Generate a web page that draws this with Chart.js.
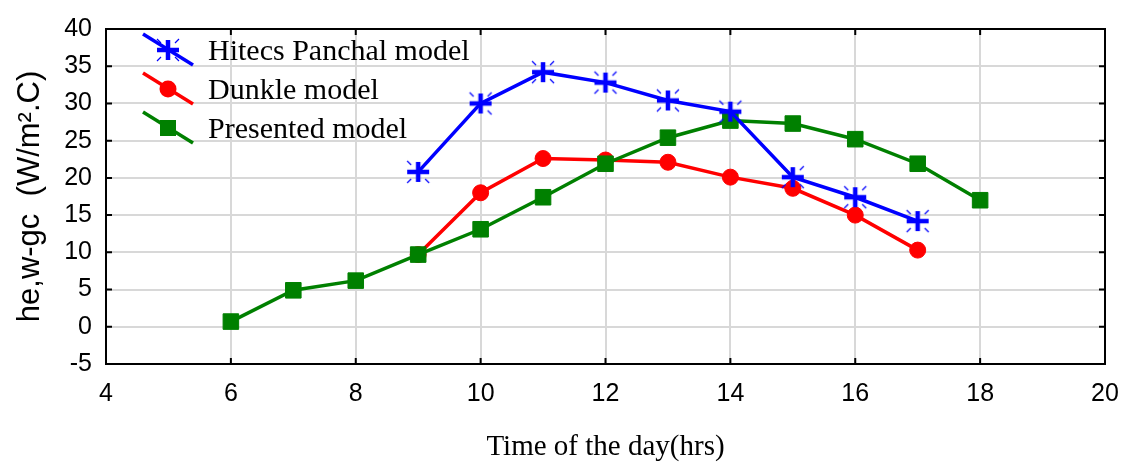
<!DOCTYPE html>
<html>
<head>
<meta charset="utf-8">
<script src="https://cdn.jsdelivr.net/npm/chart.js@4/dist/chart.umd.min.js"></script>
<style>
  html, body { margin: 0; padding: 0; background: #fff; }
  #wrap { width: 1126px; height: 466px; }
</style>
</head>
<body>
<div id="wrap"><canvas id="chart-heat" width="1126" height="466"></canvas></div>
<script>
const series_labels = ["Hitecs Panchal model", "Dunkle model", "Presented model"];

const hours_hitecs = [9, 10, 11, 12, 13, 14, 15, 16, 17];
const values_hitecs = [20.8, 30.0, 34.2, 32.8, 30.4, 28.9, 20.1, 17.4, 14.2];

const hours_dunkle = [9, 10, 11, 12, 13, 14, 15, 16, 17];
const values_dunkle = [9.7, 18.0, 22.6, 22.4, 22.1, 20.1, 18.6, 15.0, 10.3];

const hours_presented = [6, 7, 8, 9, 10, 11, 12, 13, 14, 15, 16, 17, 18];
const values_presented = [0.7, 4.9, 6.2, 9.7, 13.1, 17.4, 21.9, 25.4, 27.7, 27.3, 25.2, 21.9, 17.0];

const x_ticks = [4, 6, 8, 10, 12, 14, 16, 18, 20];
const y_ticks = [-5, 0, 5, 10, 15, 20, 25, 30, 35, 40];

const BLUE = "#0000ff", RED = "#ff0000", GREEN = "#008000";

// thick plus with thin diagonal sparks, used as the Hitecs marker
function makeStar() {
  const c = document.createElement("canvas");
  c.width = 30; c.height = 30;
  const g = c.getContext("2d");
  g.strokeStyle = BLUE;
  g.lineWidth = 4.5;
  g.beginPath();
  g.moveTo(4, 15); g.lineTo(26, 15);
  g.moveTo(15, 5); g.lineTo(15, 25);
  g.stroke();
  g.lineWidth = 1.2;
  g.beginPath();
  [[1, 1], [1, -1], [-1, 1], [-1, -1]].forEach(([dx, dy]) => {
    g.moveTo(15 + dx * 7, 15 + dy * 7);
    g.lineTo(15 + dx * 11, 15 + dy * 11);
  });
  g.stroke();
  return c;
}
const star = makeStar();

function pairs(xs, ys) {
  return xs.map((x, i) => ({ x: x, y: ys[i] }));
}

const data_heat = {
  datasets: [{
    label: series_labels[0],
    data: pairs(hours_hitecs, values_hitecs),
    borderColor: BLUE,
    backgroundColor: BLUE,
    borderWidth: 3.5,
    pointStyle: star,
    order: 0
  },
  {
    label: series_labels[1],
    data: pairs(hours_dunkle, values_dunkle),
    borderColor: RED,
    backgroundColor: RED,
    borderWidth: 3.5,
    pointStyle: "circle",
    pointRadius: 8,
    pointBorderWidth: 1,
    order: 2
  },
  {
    label: series_labels[2],
    data: pairs(hours_presented, values_presented),
    borderColor: GREEN,
    backgroundColor: GREEN,
    borderWidth: 3.5,
    pointStyle: "rect",
    pointRadius: 11,
    pointBorderWidth: 1,
    order: 1
  }]
};

// box round the plot with short inward tick marks
const framePlugin = {
  id: "frame",
  afterDatasetsDraw(chart) {
    const { ctx, chartArea: a, scales: { x, y } } = chart;
    ctx.save();
    ctx.strokeStyle = "#000";
    ctx.lineWidth = 2;
    ctx.strokeRect(a.left, a.top, a.right - a.left, a.bottom - a.top);
    ctx.beginPath();
    x_ticks.forEach(v => {
      const px = x.getPixelForValue(v);
      ctx.moveTo(px, a.top); ctx.lineTo(px, a.top + 6);
      ctx.moveTo(px, a.bottom); ctx.lineTo(px, a.bottom - 6);
    });
    y_ticks.forEach(v => {
      const py = y.getPixelForValue(v);
      ctx.moveTo(a.left, py); ctx.lineTo(a.left + 6, py);
      ctx.moveTo(a.right, py); ctx.lineTo(a.right - 6, py);
    });
    ctx.stroke();
    ctx.restore();
  }
};

// legend with slanted line samples inside the plot
const legendPlugin = {
  id: "slantLegend",
  afterDraw(chart) {
    const ctx = chart.ctx;
    const rows = [
      { color: BLUE, cy: 50, mark: "star" },
      { color: RED, cy: 89, mark: "circle" },
      { color: GREEN, cy: 128, mark: "rect" }
    ];
    ctx.save();
    rows.forEach((r, i) => {
      ctx.strokeStyle = r.color;
      ctx.fillStyle = r.color;
      ctx.lineWidth = 3.5;
      ctx.beginPath();
      ctx.moveTo(143, r.cy - 16);
      ctx.lineTo(193, r.cy + 15);
      ctx.stroke();
      if (r.mark === "star") {
        ctx.drawImage(star, 168 - 15, r.cy - 15);
      } else if (r.mark === "circle") {
        ctx.beginPath();
        ctx.arc(168, r.cy, 8.5, 0, Math.PI * 2);
        ctx.fill();
      } else {
        ctx.fillRect(168 - 8, r.cy - 8, 16, 16);
      }
      ctx.fillStyle = "#000";
      ctx.font = "30px 'Liberation Serif'";
      ctx.textBaseline = "middle";
      ctx.textAlign = "left";
      ctx.fillText(series_labels[i], 208, r.cy + 2);
    });
    ctx.restore();
  }
};

const tick_font = { family: "'Liberation Sans', Arial", size: 25 };

const config_heat = {
  type: "line",
  data: data_heat,
  options: {
    responsive: false,
    animation: false,
    layout: { padding: { top: 17, right: 21, left: 0, bottom: 0 } },
    elements: {
      line: { tension: 0 }
    },
    plugins: {
      legend: { display: false },
      tooltip: { enabled: false }
    },
    scales: {
      x: {
        type: "linear",
        min: 4,
        max: 20,
        afterBuildTicks: scale => { scale.ticks = x_ticks.map(v => ({ value: v })); },
        afterFit: scale => {
          scale.height = 102;
          // the end labels may hang past the plot edge
          scale.paddingLeft = 0;
          scale.paddingRight = 0;
        },
        ticks: { color: "#000", font: tick_font, padding: 15, maxRotation: 0 },
        grid: { color: "#d8d8d8", lineWidth: 2, drawTicks: false },
        border: { display: false },
        title: {
          display: true,
          text: "Time of the day(hrs)",
          color: "#000",
          font: { family: "'Liberation Serif', 'Times New Roman'", size: 29, lineHeight: 1.2 },
          padding: { top: 0, bottom: 1 }
        }
      },
      y: {
        type: "linear",
        min: -5,
        max: 40,
        afterBuildTicks: scale => { scale.ticks = y_ticks.map(v => ({ value: v })); },
        afterFit: scale => { scale.width = 106; },
        ticks: { color: "#000", font: tick_font, padding: 14 },
        grid: { color: "#d8d8d8", lineWidth: 2, drawTicks: false },
        border: { display: false },
        title: {
          display: true,
          text: "he,w-gc  (W/m\u00b2.C)",
          color: "#000",
          font: { family: "'Liberation Sans', Arial", size: 31, lineHeight: 1.2 },
          padding: { top: 12, bottom: 0 }
        }
      }
    }
  },
  plugins: [framePlugin, legendPlugin]
};

new Chart(document.getElementById("chart-heat"), config_heat);
</script>
</body>
</html>
